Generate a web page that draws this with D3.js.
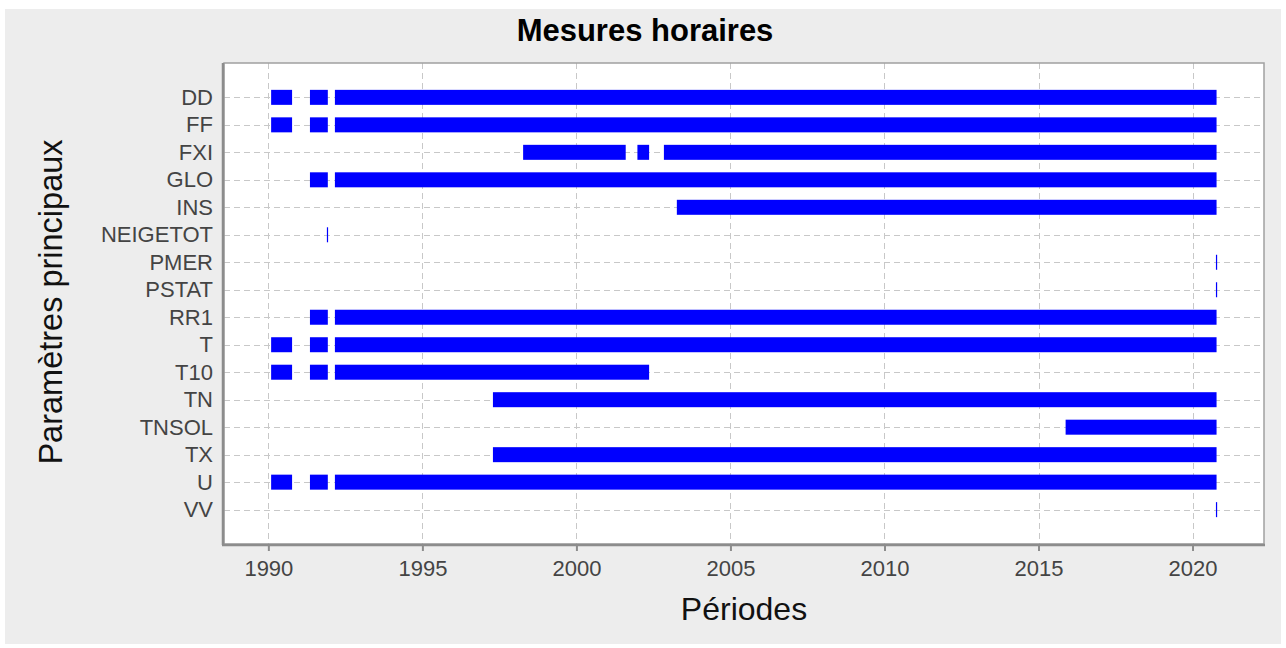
<!DOCTYPE html>
<html><head><meta charset="utf-8">
<script src="https://cdn.jsdelivr.net/npm/d3@7"></script>
<style>html,body{margin:0;padding:0;background:#fff;}svg{display:block;font-family:"Liberation Sans",Arial,sans-serif;}</style>
</head><body>
<svg id="c" width="1286" height="648"></svg>
<script>
const categories = ["DD","FF","FXI","GLO","INS","NEIGETOT","PMER","PSTAT","RR1","T","T10","TN","TNSOL","TX","U","VV"];
const xTicks = [1990,1995,2000,2005,2010,2015,2020];
// periods: [category, start year, end year]
const periods = [
  ["DD",1990.09,1990.77],["DD",1991.35,1991.93],["DD",1992.16,2020.78],
  ["FF",1990.09,1990.77],["FF",1991.35,1991.93],["FF",1992.16,2020.78],
  ["FXI",1998.27,2001.60],["FXI",2001.98,2002.36],["FXI",2002.84,2020.78],
  ["GLO",1991.35,1991.93],["GLO",1992.16,2020.78],
  ["INS",2003.26,2020.78],
  ["NEIGETOT",1991.90,1991.91],
  ["PMER",2020.76,2020.78],
  ["PSTAT",2020.76,2020.78],
  ["RR1",1991.35,1991.93],["RR1",1992.16,2020.78],
  ["T",1990.09,1990.77],["T",1991.35,1991.93],["T",1992.16,2020.78],
  ["T10",1990.09,1990.77],["T10",1991.35,1991.93],["T10",1992.16,2002.36],
  ["TN",1997.29,2020.78],
  ["TNSOL",2015.88,2020.78],
  ["TX",1997.29,2020.78],
  ["U",1990.09,1990.77],["U",1991.35,1991.93],["U",1992.16,2020.78],
  ["VV",2020.76,2020.78]
];
const title = "Mesures horaires", xTitle = "Périodes", yTitle = "Paramètres principaux";

const svg = d3.select("#c");
const L = 224, R = 1264, T = 63, B = 544;
svg.append("rect").attr("x",5).attr("y",9).attr("width",1276).attr("height",635).attr("fill","#ededed");
svg.append("rect").attr("x",L).attr("y",T).attr("width",R-L).attr("height",B-T).attr("fill","#fff");

const x = d3.scaleLinear().domain([1988.56, 2022.32]).range([L, R]);
const idx = new Map(categories.map((c,i)=>[c,i]));
const y = d3.scaleLinear().domain([-1.25, categories.length + 0.25]).range([T, B]);
const barH = 15;

const grid = svg.append("g").attr("stroke","#c8c8c8").attr("stroke-width",1).attr("stroke-dasharray","6,4");
grid.selectAll("line.v").data(xTicks).join("line")
  .attr("x1",d=>Math.round(x(d))+0.5).attr("x2",d=>Math.round(x(d))+0.5).attr("y1",T).attr("y2",B);
grid.selectAll("line.h").data(categories).join("line")
  .attr("x1",L).attr("x2",R).attr("y1",(d,i)=>Math.round(y(i))+0.5).attr("y2",(d,i)=>Math.round(y(i))+0.5);

svg.append("g").selectAll("rect").data(periods).join("rect")
  .attr("x",d=>x(d[1]))
  .attr("width",d=>Math.max(1.2, x(d[2])-x(d[1])))
  .attr("y",d=>y(idx.get(d[0]))-barH/2)
  .attr("height",barH)
  .attr("fill","#0000ff");

// frame
svg.append("rect").attr("x",L).attr("y",T).attr("width",R-L).attr("height",B-T)
  .attr("fill","none").attr("stroke","#a0a0a0").attr("stroke-width",1.5);
svg.append("line").attr("x1",L-1).attr("x2",L-1).attr("y1",T).attr("y2",B+1).attr("stroke","#8c8c8c").attr("stroke-width",2.5);
svg.append("line").attr("x1",L-2).attr("x2",R+1).attr("y1",B+1).attr("y2",B+1).attr("stroke","#8c8c8c").attr("stroke-width",2.5);

// x axis
const xa = svg.append("g").attr("transform",`translate(0,${B+2})`)
  .call(d3.axisBottom(x).tickValues(xTicks).tickFormat(d3.format("d")).tickSize(5).tickPadding(9));
xa.select(".domain").remove();
xa.selectAll("line").attr("stroke","#8c8c8c").attr("stroke-width",2);
xa.selectAll("text").attr("font-size",22).attr("fill","#444").attr("font-family","Liberation Sans, Arial, sans-serif");

// y axis
const ya = svg.append("g").attr("transform",`translate(${L-2},0)`)
  .call(d3.axisLeft(d3.scalePoint().domain(categories).range([y(0),y(categories.length-1)])).tickSize(0).tickPadding(9));
ya.select(".domain").remove();
ya.selectAll("text").attr("font-size",22).attr("fill","#444").attr("font-family","Liberation Sans, Arial, sans-serif");

svg.append("text").attr("x",645).attr("y",41).attr("text-anchor","middle")
  .attr("font-size",31).attr("font-weight","bold").attr("fill","#000").text(title);
svg.append("text").attr("x",744).attr("y",620).attr("text-anchor","middle")
  .attr("font-size",32).attr("fill","#111").text(xTitle);
svg.append("text").attr("transform","translate(62,302) rotate(-90)").attr("text-anchor","middle")
  .attr("font-size",32.5).attr("fill","#111").text(yTitle);
</script>
</body></html>
